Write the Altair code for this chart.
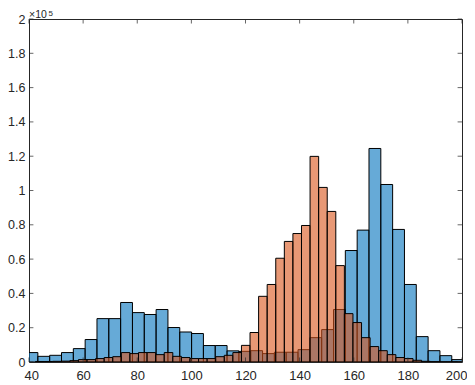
import altair as alt
import pandas as pd

# ---- data (counts in thousands) ----
BLUE_START = 38.9
BLUE_WIDTH = 4.37
blue_counts = [5.5, 3.3, 3.9, 5.5, 7.8, 13.1, 25.3, 25.3, 34.7, 28.8,
               27.7, 30.6, 20.1, 17.5, 16.6, 9.6, 9.6, 6.5, 6.2, 6.6,
               4.9, 5.7, 5.7, 7.2, 14.2, 18.9, 30.6, 65.0, 76.9, 124.5,
               103.5, 77.3, 45.2, 14.8, 6.6, 3.7, 1.4]

ORANGE_START = 42.42
ORANGE_WIDTH = 3.17
orange_counts = [0.3, 0.3, 0.4, 0.5, 0.8, 1.4, 1.4, 2.0, 2.6, 3.1,
                 5.5, 4.9, 5.5, 5.5, 4.3, 5.5, 3.3, 2.6, 2.0, 2.0,
                 2.0, 3.1, 3.9, 5.5, 9.7, 17.2, 38.3, 45.2, 60.5, 70.3,
                 74.9, 79.6, 119.9, 101.8, 87.8, 56.2, 28.2, 23.0, 14.2, 9.0,
                 6.6, 4.3, 2.6, 2.0, 1.0, 0.4, 0.2, 0.1, 0.1, 0.1]

x_ticks = [40, 60, 80, 100, 120, 140, 160, 180, 200]
y_ticks = [0, 20000, 40000, 60000, 80000, 100000, 120000, 140000, 160000, 180000, 200000]
exp_base = ["\u00d710"]
exp_power = ["5"]

W, H = 433, 343
FONT = "Liberation Sans"
AX = "#262626"


def hist_df(start, width, counts):
    return pd.DataFrame({
        "lo": [start + i * width for i in range(len(counts))],
        "hi": [start + (i + 1) * width for i in range(len(counts))],
        "count": [c * 1000 for c in counts],
        "zero": [0] * len(counts),
    })


blue_df = hist_df(BLUE_START, BLUE_WIDTH, blue_counts)
orange_df = hist_df(ORANGE_START, ORANGE_WIDTH, orange_counts)

xs = alt.Scale(domain=[40, 200], nice=False, zero=False)
ys = alt.Scale(domain=[0, 200000], nice=False)

x_axis = alt.Axis(values=x_ticks, ticks=False, domain=False, grid=False, title=None,
                  labelPadding=7, labelFontSize=13, labelFont=FONT, labelColor=AX,
                  labelFlush=True, labelFlushOffset=5, labelOverlap=False, labelBound=False)
y_axis = alt.Axis(values=y_ticks, ticks=False, domain=False, grid=False, title=None,
                  labelPadding=4, labelFontSize=12.5, labelFont=FONT, labelColor=AX,
                  labelOverlap=False, labelBound=False,
                  labelExpr="'' + round(datum.value / 10000) / 10")

blue = alt.Chart(blue_df).mark_rect(
    clip=True, fill="#0072BD", fillOpacity=0.6, stroke="black", strokeWidth=1
).encode(
    x=alt.X("lo:Q", scale=xs, axis=x_axis), x2="hi",
    y=alt.Y("count:Q", scale=ys, axis=y_axis), y2="zero",
)

orange = alt.Chart(orange_df).mark_rect(
    clip=True, fill="#D95319", fillOpacity=0.6, stroke="black", strokeWidth=1
).encode(
    x=alt.X("lo:Q", scale=xs, axis=x_axis), x2="hi",
    y=alt.Y("count:Q", scale=ys, axis=y_axis), y2="zero",
)

xt_df = pd.DataFrame({"lo": x_ticks})
yt_df = pd.DataFrame({"count": y_ticks})
TL = 4.4
xt_bottom = alt.Chart(xt_df).mark_tick(orient="vertical", size=TL, thickness=1, color=AX).encode(
    x=alt.X("lo:Q", scale=xs, axis=x_axis), y=alt.value(H - TL / 2))
xt_top = alt.Chart(xt_df).mark_tick(orient="vertical", size=TL, thickness=1, color=AX).encode(
    x=alt.X("lo:Q", scale=xs, axis=x_axis), y=alt.value(TL / 2))
yt_left = alt.Chart(yt_df).mark_tick(orient="horizontal", size=TL, thickness=1, color=AX).encode(
    y=alt.Y("count:Q", scale=ys, axis=y_axis), x=alt.value(TL / 2))
yt_right = alt.Chart(yt_df).mark_tick(orient="horizontal", size=TL, thickness=1, color=AX).encode(
    y=alt.Y("count:Q", scale=ys, axis=y_axis), x=alt.value(W - TL / 2))

exp1 = alt.Chart(pd.DataFrame({"t": exp_base})).mark_text(
    align="left", baseline="alphabetic", fontSize=10.5, font=FONT, color=AX
).encode(x=alt.value(0), y=alt.value(-1.5), text="t:N")
exp2 = alt.Chart(pd.DataFrame({"t": exp_power})).mark_text(
    align="left", baseline="alphabetic", fontSize=8, font=FONT, color=AX
).encode(x=alt.value(19.5), y=alt.value(-3.5), text="t:N")

chart = alt.layer(
    blue, orange, xt_bottom, xt_top, yt_left, yt_right, exp1, exp2
).properties(
    width=W, height=H,
    padding={"left": 21, "top": 11, "right": 5, "bottom": 22},
    autosize=alt.AutoSizeParams(type="none"),
    background="white",
).configure_view(stroke=AX, strokeWidth=1).configure_axis(labelOverlap=False)

chart.save("out.html", embed_options={"renderer": "svg", "actions": False})
